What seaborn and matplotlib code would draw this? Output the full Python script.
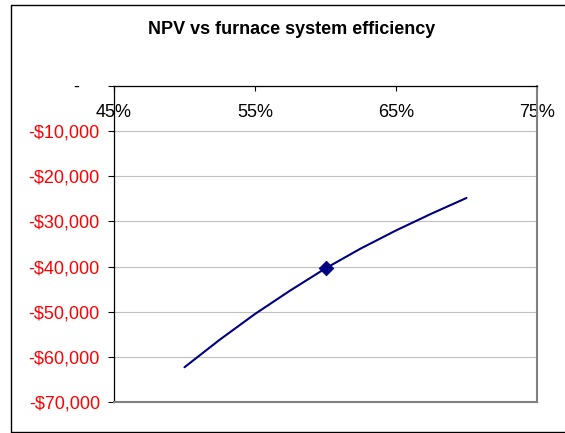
import matplotlib
matplotlib.use('Agg')
import matplotlib.pyplot as plt
from matplotlib.lines import Line2D
import seaborn as sns

# values
efficiency = [0.50, 0.525, 0.55, 0.575, 0.60, 0.625, 0.65, 0.675, 0.70]
npv = [-62300, -56200, -50500, -45300, -40400, -36000, -32000, -28300, -24800]
base_eff = [0.60]
base_npv = [-40400]

x_ticks = [0.45, 0.55, 0.65, 0.75]
x_labels = ['45%', '55%', '65%', '75%']
y_ticks = [-70000, -60000, -50000, -40000, -30000, -20000, -10000, 0]
y_labels = ['-$70,000', '-$60,000', '-$50,000', '-$40,000', '-$30,000',
            '-$20,000', '-$10,000', '-    ']

sns.set_style('white')
plt.rcParams['font.family'] = ['Liberation Sans', 'DejaVu Sans']
plt.rcParams['text.color'] = 'black'

navy = '#000080'

fig = plt.figure(figsize=(5.65, 4.33), dpi=100)
ax = fig.add_axes([114 / 565, 31 / 433, 423 / 565, 316 / 433])

sns.lineplot(x=efficiency, y=npv, ax=ax, color=navy, linewidth=1.5)
sns.scatterplot(x=base_eff, y=base_npv, ax=ax, marker='D', s=55,
                color=navy, edgecolor=navy, zorder=5)

ax.set_xlim(0.45, 0.75)
ax.set_ylim(-70000, 0)
ax.set_xticks(x_ticks)
ax.set_xticklabels(x_labels)
ax.set_yticks(y_ticks)
ax.set_yticklabels(y_labels)
ax.set_xlabel('')
ax.set_ylabel('')

ax.yaxis.grid(True, color='#c0c0c0', linewidth=0.8)
ax.xaxis.grid(False)
ax.set_axisbelow(True)

for side in ['top', 'left']:
    ax.spines[side].set_color('black')
    ax.spines[side].set_linewidth(0.9)
for side in ['right', 'bottom']:
    ax.spines[side].set_color('#808080')
    ax.spines[side].set_linewidth(1.5)

ax.tick_params(axis='y', direction='out', left=True, length=4.3, width=0.8,
               color='black', labelcolor='red', pad=5.8, labelsize=13)
ax.get_yticklabels()[-1].set_color('black')
ax.tick_params(axis='x', top=True, bottom=False, labeltop=True, labelbottom=False,
               direction='in', length=3.6, width=0.8, color='black',
               labelcolor='black', pad=-25, labelsize=13)

fig.text(292 / 565, 1 - 30 / 433, 'NPV vs furnace system efficiency',
         ha='center', va='center', fontsize=13, fontweight='bold', color='black')

# outer chart frame: left, top and bottom only (right edge is off the canvas)
fx0, fy0, fy1 = 11 / 565, 1.5 / 433, 1 - 5 / 433
for xs, ys in [([fx0, fx0], [fy0, fy1]), ([fx0, 1.1], [fy1, fy1]), ([fx0, 1.1], [fy0, fy0])]:
    fig.add_artist(Line2D(xs, ys, transform=fig.transFigure, color='black', linewidth=1.0))

fig.savefig('out.png', dpi=100)
